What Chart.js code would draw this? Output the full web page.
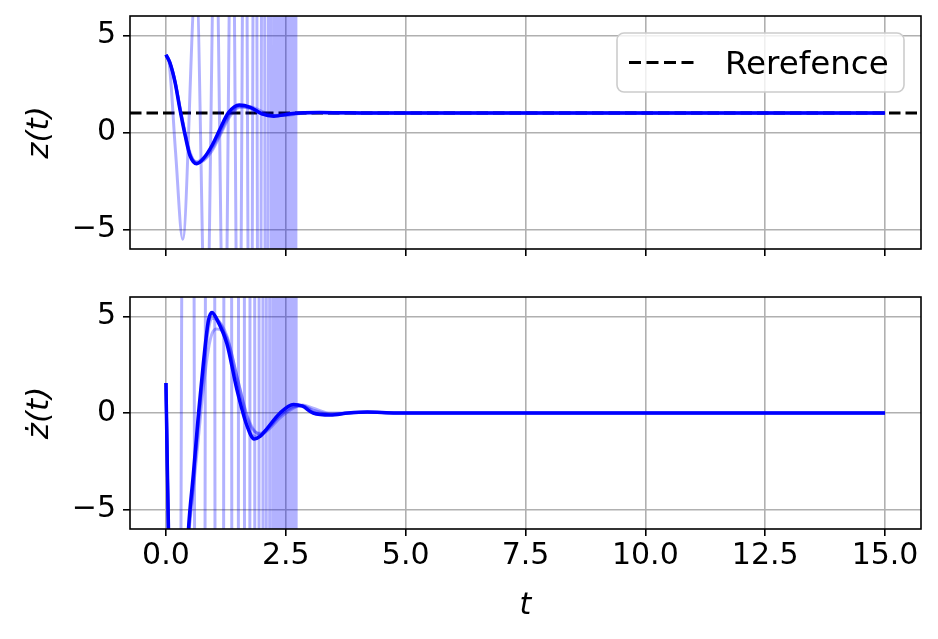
<!DOCTYPE html>
<html>
<head>
<meta charset="utf-8">
<script src="https://cdn.jsdelivr.net/npm/chart.js@4.4.1/dist/chart.umd.min.js"></script>
<style>
  html, body { margin: 0; padding: 0; background: #fff; }
  #wrap { position: relative; width: 938px; height: 639px; }
  #wrap canvas { position: absolute; left: 0; top: 0; }
</style>
</head>
<body>
<div id="wrap">
  <canvas id="pos" width="938" height="639"></canvas>
  <canvas id="vel" width="938" height="639"></canvas>
</div>
<script>
// Axis ticks
const tTicks = [0, 2.5, 5, 7.5, 10, 12.5, 15];
const yTicks = [-5, 0, 5];
const yTickLabels = ['\u22125', '0', '5'];

// Reference value
const zRef = 1;

// Position z(t): main trajectory and close faint runs share one time grid
const tZ = [0, 0.08, 0.19, 0.29, 0.4, 0.5, 0.64, 0.78, 0.96, 1.13, 1.3, 1.53, 1.76, 2.0, 2.25, 2.59, 2.8, 3.2, 3.6, 4.2, 5, 15];
const zMain = [4, 3.61, 2.58, 1.21, -0.15, -1.18, -1.61, -1.35, -0.67, 0.19, 1.01, 1.42, 1.30, 0.96, 0.84, 0.96, 1.01, 1.03, 1.02, 1.0, 1.0, 1.0];
const zFaintA = [4, 3.62, 2.65, 1.35, 0.0, -1.0, -1.55, -1.45, -0.95, -0.15, 0.7, 1.3, 1.33, 1.08, 0.88, 0.9, 0.98, 1.03, 1.02, 1.0, 1.0, 1.0];
const zFaintB = [4, 3.6, 2.6, 1.3, -0.05, -1.1, -1.58, -1.42, -0.85, -0.05, 0.8, 1.33, 1.27, 1.0, 0.86, 0.93, 1.0, 1.03, 1.01, 1.0, 1.0, 1.0];
const zFaintC = [4, 3.61, 2.6, 1.25, -0.1, -1.12, -1.5, -1.3, -0.75, 0.05, 0.9, 1.36, 1.22, 0.95, 0.88, 0.97, 1.02, 1.03, 1.02, 1.0, 1.0, 1.0];

// Diverging run of z(t): its turning points (ends at t = 2.72)
const tZDiv = [0, 0.06, 0.2, 0.35, 0.63, 0.84, 1.03, 1.22, 1.38, 1.52, 1.65, 1.76, 1.86, 1.95, 2.03, 2.10, 2.17, 2.23, 2.29, 2.34, 2.39, 2.44, 2.48, 2.52, 2.56, 2.59, 2.62, 2.65, 2.68, 2.70, 2.72];
const zDiv = [4, 3.7, -1.0, -5.5, 8, -12, 12, -14, 16, -19, 22, -26, 30, -35, 41, -48, 56, -65, 75, -87, 100, -115, 132, -150, 170, -195, 220, -250, 285, -320, 360];

// Velocity dz/dt
const tV = [0, 0.03, 0.06, 0.12, 0.2, 0.3, 0.4, 0.47, 0.57, 0.68, 0.78, 0.885, 0.96, 1.05, 1.27, 1.48, 1.69, 1.84, 1.97, 2.1, 2.38, 2.66, 2.85, 3.07, 3.43, 3.8, 4.2, 4.8, 15];
const vMain = [1.55, -3, -7, -11, -13.5, -13, -9.5, -6, -3.2, 0, 2.57, 4.78, 5.2, 4.9, 3.59, 1.21, -0.66, -1.34, -1.2, -0.83, 0, 0.44, 0.35, 0, -0.1, 0, 0.05, 0, 0];
const vFaintA = [1.55, -3, -7, -11, -13, -12.5, -9.5, -6.5, -4, -1.2, 1.3, 3.3, 4.1, 4.35, 3.9, 1.9, -0.2, -0.95, -1.05, -0.85, -0.15, 0.3, 0.38, 0.15, -0.05, 0, 0.04, 0, 0];
const vFaintB = [1.55, -3, -7, -11, -13.5, -13, -9.5, -6.2, -3.5, -0.3, 2.3, 4.6, 5.1, 4.95, 3.8, 1.5, -0.45, -1.2, -1.15, -0.9, -0.1, 0.35, 0.38, 0.08, -0.08, 0, 0.05, 0, 0];
const vFaintC = [1.55, -3, -7, -11, -13.2, -12.8, -9.6, -6.4, -3.7, -0.6, 2.0, 4.3, 4.9, 4.85, 4.0, 1.9, -0.1, -0.9, -1.1, -0.95, -0.25, 0.25, 0.42, 0.25, 0.0, 0, 0.04, 0, 0];

// Diverging run of dz/dt
const tVDiv = [0, 0.03, 0.2, 0.48, 0.72, 0.93, 1.12, 1.30, 1.45, 1.58, 1.70, 1.81, 1.90, 1.99, 2.06, 2.13, 2.20, 2.26, 2.31, 2.36, 2.41, 2.46, 2.50, 2.54, 2.57, 2.60, 2.63, 2.66, 2.69, 2.71, 2.72];
const vDiv = [1.55, -3, -60, 90, -110, 130, -150, 175, -200, 230, -265, 300, -340, 390, -440, 500, -560, 630, -710, 800, -900, 1000, -1120, 1250, -1400, 1550, -1720, 1900, -2100, 2300, -2400];

const BLUE = '#0000ff';
const FAINT = 'rgba(0, 0, 255, 0.3)';

Chart.defaults.font.family = '"DejaVu Sans", sans-serif';
Chart.defaults.color = '#000';

const pairs = (ts, vs) => ts.map((t, i) => ({ x: t, y: vs[i] }));

const curve = (label, ts, vs, color, width = 3) => ({
  label,
  data: pairs(ts, vs),
  showLine: true,
  borderColor: color,
  borderWidth: width,
  pointRadius: 0,
  cubicInterpolationMode: 'monotone',
  capBezierPoints: false,
});

// Black frame round the plot area
const frame = {
  id: 'frame',
  afterDraw(chart) {
    const { ctx, chartArea: a } = chart;
    ctx.save();
    ctx.strokeStyle = '#000';
    ctx.lineWidth = 1.6;
    ctx.strokeRect(a.left, a.top, a.right - a.left, a.bottom - a.top);
    ctx.restore();
  },
};

// matplotlib-like legend box in the upper right
const refLegend = {
  id: 'refLegend',
  afterDraw(chart) {
    const { ctx, chartArea: a } = chart;
    const ds = chart.data.datasets.find((d) => d.isRef);
    const w = 287;
    const h = 59;
    const x0 = a.right - 17 - w;
    const y0 = a.top + 17;
    ctx.save();
    ctx.beginPath();
    ctx.roundRect(x0, y0, w, h, 7);
    ctx.fillStyle = 'rgba(255,255,255,0.8)';
    ctx.fill();
    ctx.strokeStyle = '#cccccc';
    ctx.lineWidth = 1.6;
    ctx.stroke();
    ctx.beginPath();
    ctx.setLineDash([12, 5.5]);
    ctx.strokeStyle = '#000';
    ctx.lineWidth = 3;
    ctx.moveTo(x0 + 12, y0 + h / 2);
    ctx.lineTo(x0 + 80, y0 + h / 2);
    ctx.stroke();
    ctx.setLineDash([]);
    ctx.fillStyle = '#000';
    ctx.font = '32.5px "DejaVu Sans"';
    ctx.textBaseline = 'alphabetic';
    ctx.fillText(ds.label, x0 + 108, y0 + 41);
    ctx.restore();
  },
};

function panelOptions({ top, bottom, xHeight, showX, yTitle }) {
  return {
    responsive: false,
    animation: false,
    events: [],
    layout: { padding: { left: 0, right: 17, top, bottom } },
    plugins: { legend: { display: false }, tooltip: { enabled: false } },
    scales: {
      x: {
        type: 'linear',
        min: -0.75,
        max: 15.75,
        afterBuildTicks: (s) => { s.ticks = tTicks.map((v) => ({ value: v })); },
        afterFit: (s) => { s.height = xHeight; s.paddingLeft = 0; s.paddingRight = 0; },
        grid: { color: '#b0b0b0', lineWidth: 1.6, tickColor: '#000', tickWidth: 1.6, tickLength: 7 },
        border: { display: false },
        ticks: { display: showX, padding: 2, font: { size: 30 }, maxRotation: 0, callback: (v) => v.toFixed(1) },
        title: { display: showX, text: 't', font: { size: 30, style: 'italic' }, padding: { top: 0, bottom: 15 } },
      },
      y: {
        type: 'linear',
        min: -6,
        max: 6,
        afterBuildTicks: (s) => { s.ticks = yTicks.map((v) => ({ value: v })); },
        afterFit: (s) => { s.width = 130; s.paddingTop = 0; s.paddingBottom = 0; },
        grid: { color: '#b0b0b0', lineWidth: 1.6, tickColor: '#000', tickWidth: 1.6, tickLength: 7 },
        border: { display: false },
        ticks: { padding: 7, font: { size: 30 }, callback: (v, i) => yTickLabels[i] },
        title: { display: true, text: yTitle, font: { size: 31, style: 'italic' }, padding: { top: 21, bottom: 0 } },
      },
    },
  };
}

// Upper panel: z(t)
new Chart(document.getElementById('pos'), {
  type: 'scatter',
  data: {
    datasets: [
      curve('z', tZ, zMain, BLUE, 3.5),
      curve('z run A', tZ, zFaintA, FAINT),
      curve('z run B', tZ, zFaintB, FAINT),
      curve('z run C', tZ, zFaintC, FAINT),
      curve('z diverging', tZDiv, zDiv, FAINT),
      {
        label: 'Rerefence',
        isRef: true,
        data: [{ x: -0.75, y: zRef }, { x: 15.75, y: zRef }],
        showLine: true,
        borderColor: '#000',
        borderWidth: 3,
        borderDash: [11.5, 5],
        pointRadius: 0,
      },
    ],
  },
  options: panelOptions({ top: 16, bottom: 380, xHeight: 10, showX: false, yTitle: 'z(t)' }),
  plugins: [frame, refLegend],
});

// Lower panel: dz/dt
new Chart(document.getElementById('vel'), {
  type: 'scatter',
  data: {
    datasets: [
      curve('dz', tV, vMain, BLUE, 3.5),
      curve('dz run A', tV, vFaintA, FAINT),
      curve('dz run B', tV, vFaintB, FAINT),
      curve('dz run C', tV, vFaintC, FAINT),
      curve('dz diverging', tVDiv, vDiv, FAINT),
    ],
  },
  options: panelOptions({ top: 297, bottom: 0, xHeight: 110, showX: true, yTitle: '\u017C(t)' }),
  plugins: [frame],
});
</script>
</body>
</html>
